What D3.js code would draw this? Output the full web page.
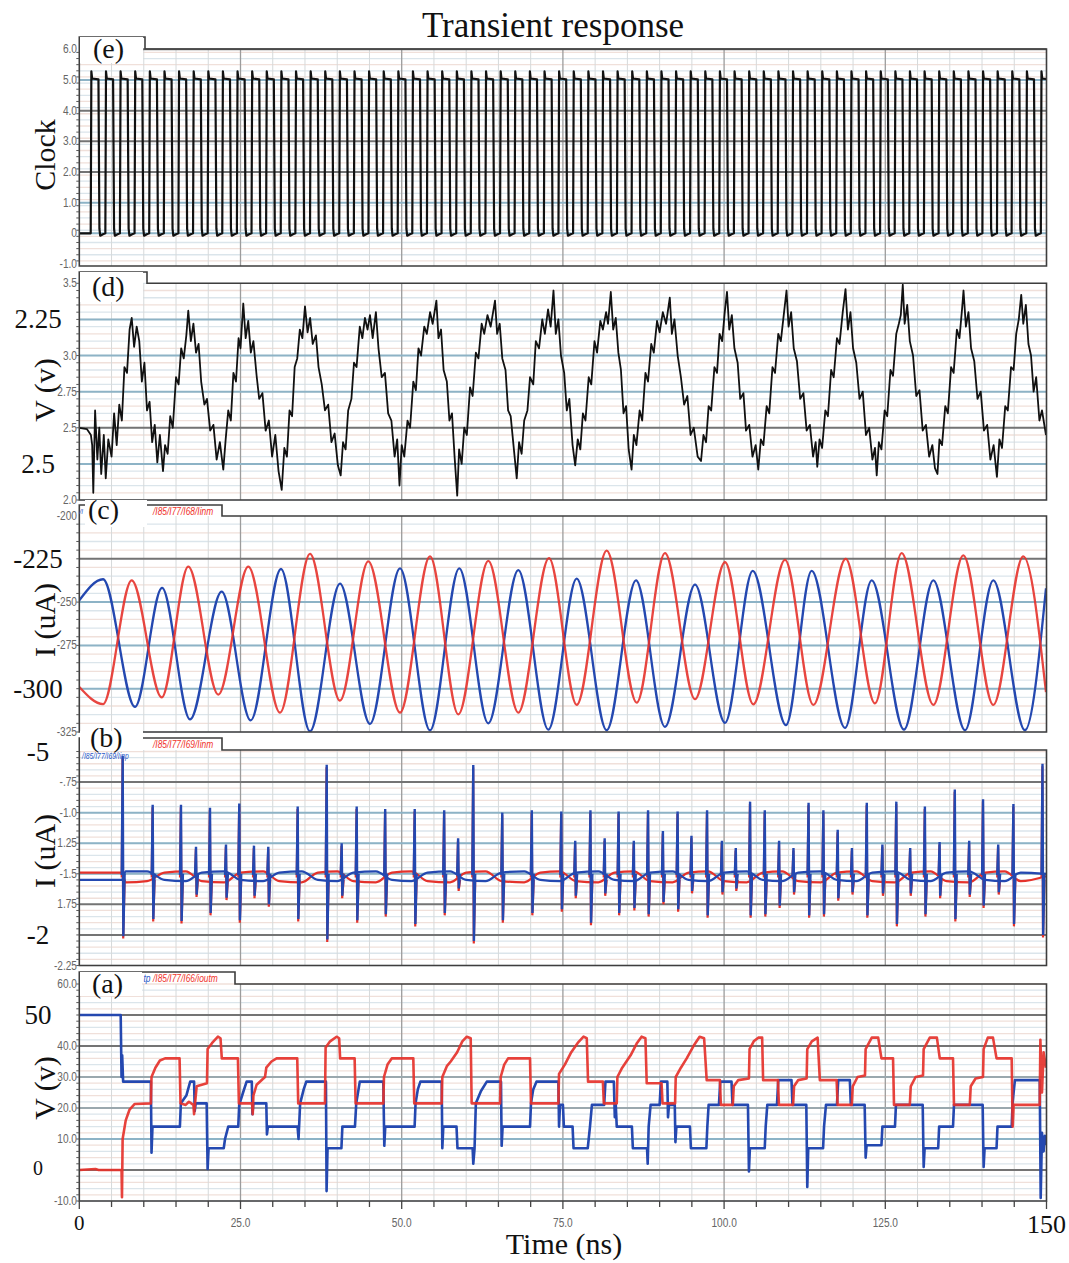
<!DOCTYPE html>
<html><head><meta charset="utf-8">
<script src="https://cdn.jsdelivr.net/npm/d3@7"></script>
<style>body{margin:0;background:#fff}svg{display:block}</style>
</head><body><svg id="c" width="1069" height="1263"></svg>
<script>
// ---------------- DATA ----------------
const titleText = "Transient response";
const xLabel = "Time (ns)";
const xTicks = [25, 50, 75, 100, 125];
const xTickLabels = ["25.0", "50.0", "75.0", "100.0", "125.0"];

// (e) clock: rising-edge times (ns)
const clockRise = [1.77,4.04,6.30,8.57,10.84,13.11,15.37,17.64,19.91,22.17,24.44,26.71,28.97,31.24,33.51,35.78,38.04,40.31,42.58,44.84,47.11,49.38,51.64,53.91,56.18,58.45,60.71,62.98,65.25,67.51,69.78,72.05,74.31,76.58,78.85,81.12,83.38,85.65,87.92,90.18,92.45,94.72,96.98,99.25,101.52,103.79,106.05,108.32,110.59,112.85,115.12,117.39,119.65,121.92,124.19,126.46,128.72,130.99,133.26,135.52,137.79,140.06,142.32,144.59,146.86,149.12];
const eTickVals = [6, 5, 4, 3, 2, 1, 0, -1];
const eTickLabels = ["6.0", "5.0", "4.0", "3.0", "2.0", "1.0", "0", "-1.0"];

// (d) voltage trace [t, V]
const dTrace = [[0,2.50],[1.2,2.49],[1.8,2.45],[2.0,2.38],[2.17,2.05],[2.45,2.62],[2.8,2.28],[3.1,2.50],[3.4,2.18],[3.8,2.45],[4.1,2.15],[4.5,2.42],[5.0,2.30],[5.4,2.60],[5.8,2.38],[6.2,2.66],[6.6,2.55],[7.0,2.92],[7.4,2.88],[7.8,3.18],[8.13,3.26],[8.5,3.06],[8.9,3.20],[9.3,3.10],[9.7,2.82],[10.1,2.95],[10.5,2.62],[10.9,2.68],[11.3,2.40],[11.7,2.52],[12.1,2.26],[12.5,2.45],[12.98,2.20],[13.3,2.38],
[13.7,2.32],[14.1,2.58],[14.5,2.50],[15.0,2.85],[15.4,2.80],[15.8,3.05],[16.2,2.98],[16.6,3.14],[16.9,3.31],[17.3,3.10],[17.7,3.22],[18.1,3.02],[18.5,3.08],[18.9,2.82],[19.4,2.66],[19.8,2.70],[20.3,2.48],[20.8,2.52],[21.3,2.28],[21.8,2.40],[22.33,2.21],[22.7,2.42],
[23.1,2.62],[23.5,2.55],[23.9,2.88],[24.3,2.82],[24.7,3.12],[25.0,3.05],[25.43,3.36],[25.8,3.12],[26.2,3.24],[26.6,3.02],[27.0,3.10],[27.5,2.86],[27.9,2.70],[28.4,2.74],[28.9,2.48],[29.4,2.55],[29.9,2.30],[30.4,2.45],[30.9,2.20],[31.39,2.07],[31.8,2.36],[32.2,2.30],
[32.6,2.62],[33.0,2.58],[33.4,2.92],[33.8,2.98],[34.2,3.18],[34.6,3.12],[35.0,3.34],[35.4,3.16],[35.8,3.26],[36.2,3.08],[36.7,3.14],[37.1,2.92],[37.6,2.80],[38.1,2.62],[38.6,2.66],[39.1,2.40],[39.6,2.46],[40.1,2.24],[40.54,2.17],[40.9,2.40],[41.3,2.35],
[41.7,2.62],[42.2,2.70],[42.6,2.95],[43.0,2.92],[43.5,3.20],[43.9,3.12],[44.3,3.26],[44.7,3.18],[45.08,3.28],[45.5,3.12],[46.0,3.30],[46.4,3.05],[46.9,2.85],[47.4,2.88],[47.9,2.60],[48.4,2.55],[48.9,2.30],[49.3,2.42],[49.66,2.10],[50.0,2.38],[50.4,2.30],
[50.9,2.55],[51.3,2.50],[51.8,2.82],[52.2,2.76],[52.6,3.05],[53.0,3.00],[53.5,3.20],[53.9,3.15],[54.4,3.30],[54.8,3.22],[55.38,3.38],[55.7,3.12],[56.1,3.18],[56.5,2.90],[57.0,2.82],[57.4,2.55],[57.8,2.60],[58.2,2.30],[58.61,2.03],[58.9,2.35],[59.3,2.25],
[59.7,2.50],[60.1,2.45],[60.6,2.78],[61.0,2.72],[61.5,3.02],[61.9,2.98],[62.4,3.22],[62.8,3.15],[63.3,3.28],[63.8,3.20],[64.47,3.38],[64.8,3.15],[65.2,3.22],[65.6,2.98],[66.1,2.90],[66.5,2.62],[66.9,2.58],[67.4,2.35],[67.84,2.15],[68.2,2.40],[68.6,2.32],
[69.0,2.55],[69.5,2.62],[69.9,2.85],[70.4,2.80],[70.8,3.10],[71.3,3.05],[71.8,3.25],[72.2,3.15],[72.7,3.32],[73.1,3.20],[73.54,3.45],[73.9,3.15],[74.3,3.25],[74.7,3.00],[75.2,2.88],[75.6,2.62],[76.0,2.70],[76.5,2.38],[76.91,2.24],[77.3,2.42],[77.7,2.35],
[78.1,2.60],[78.5,2.55],[79.0,2.85],[79.4,2.80],[79.9,3.10],[80.3,3.02],[80.8,3.24],[81.2,3.18],[81.7,3.30],[82.0,3.22],[82.43,3.44],[82.8,3.18],[83.2,3.26],[83.6,3.02],[84.0,2.90],[84.4,2.60],[84.8,2.65],[85.2,2.35],[85.65,2.21],[86.0,2.45],[86.4,2.38],
[86.9,2.62],[87.3,2.55],[87.8,2.88],[88.2,2.82],[88.7,3.08],[89.1,3.02],[89.6,3.24],[90.0,3.16],[90.5,3.30],[91.0,3.22],[91.58,3.40],[91.9,3.15],[92.3,3.25],[92.8,3.00],[93.3,2.85],[93.8,2.66],[94.3,2.72],[94.8,2.45],[95.3,2.50],[95.9,2.30],[96.42,2.27],[96.8,2.45],
[97.2,2.40],[97.6,2.65],[98.0,2.62],[98.5,2.92],[98.9,2.88],[99.3,3.15],[99.7,3.10],[100.1,3.30],[100.45,3.44],[100.8,3.18],[101.2,3.28],[101.6,3.05],[102.1,2.95],[102.5,2.70],[103.0,2.74],[103.4,2.48],[103.9,2.52],[104.4,2.30],[104.9,2.38],[105.3,2.21],[105.7,2.42],
[106.1,2.38],[106.6,2.65],[107.0,2.60],[107.5,2.92],[107.9,2.88],[108.4,3.15],[108.8,3.10],[109.3,3.30],[109.68,3.45],[110.0,3.20],[110.4,3.30],[110.8,3.05],[111.3,2.96],[111.8,2.70],[112.3,2.74],[112.8,2.48],[113.3,2.52],[113.8,2.30],[114.2,2.40],[114.45,2.23],[114.8,2.42],
[115.2,2.36],[115.7,2.62],[116.1,2.58],[116.6,2.90],[117.0,2.85],[117.5,3.12],[117.9,3.08],[118.4,3.30],[118.83,3.46],[119.2,3.18],[119.6,3.30],[120.0,3.05],[120.5,2.95],[121.0,2.70],[121.5,2.75],[122.0,2.45],[122.5,2.50],[123.0,2.28],[123.4,2.36],[123.67,2.17],[124.0,2.40],
[124.4,2.35],[124.9,2.62],[125.3,2.58],[125.8,2.90],[126.2,2.86],[126.7,3.15],[127.1,3.22],[127.4,3.28],[127.71,3.49],[128.0,3.22],[128.4,3.35],[128.8,3.10],[129.3,3.00],[129.8,2.72],[130.3,2.76],[130.8,2.48],[131.3,2.52],[131.8,2.30],[132.3,2.38],[132.7,2.22],[133.09,2.18],[133.4,2.42],
[133.8,2.38],[134.3,2.65],[134.7,2.60],[135.2,2.92],[135.6,2.88],[136.1,3.18],[136.5,3.12],[136.9,3.32],[137.13,3.45],[137.5,3.20],[137.9,3.30],[138.3,3.05],[138.8,2.96],[139.3,2.70],[139.8,2.75],[140.3,2.48],[140.8,2.52],[141.3,2.28],[141.8,2.38],[142.31,2.16],[142.7,2.42],
[143.1,2.36],[143.6,2.65],[144.0,2.62],[144.5,2.92],[144.9,2.90],[145.3,3.15],[145.7,3.25],[146.08,3.42],[146.4,3.22],[146.8,3.35],[147.2,3.08],[147.6,3.00],[148.0,2.75],[148.4,2.85],[148.9,2.55],[149.3,2.62],[149.92,2.45]];
const dTickVals = [3.5, 3.0, 2.75, 2.5, 2.0];
const dTickLabels = ["3.5", "3.0", "2.75", "2.5", "2.0"];
const dBigVals = [3.25, 2.25];
const dBigLabels = ["2.25", "2.5"];

// (c) current extrema [t, uA]
const cBlue = [[0,-249],[3.68,-236.8],[8.64,-310.5],[12.83,-241.8],[17.17,-317.7],[22.08,-244],[26.58,-318.3],[31.28,-230.9],[35.78,-324.6],[40.43,-239.3],[45.08,-320.3],[49.74,-230.5],[54.39,-324],[58.93,-230.5],[63.43,-320],[68.08,-231.5],[72.74,-323.6],[77.14,-236.4],[81.79,-324],[86.34,-237.4],[90.83,-322],[95.49,-239.9],[100.14,-319.7],[104.44,-232],[109.6,-321],[113.58,-232],[118.75,-322.6],[122.89,-237.4],[127.9,-323.6],[132.45,-237.4],[137.36,-324],[141.75,-237.4],[146.66,-324],[149.92,-242]];
const cRed = [[0,-299],[3.68,-308.9],[8.13,-237.4],[12.78,-305],[16.9,-229.5],[21.56,-303.4],[26.21,-229.5],[31.13,-313.8],[35.78,-222.2],[40.43,-306.9],[44.82,-226.5],[49.74,-313.8],[54.39,-223.6],[58.78,-314.8],[63.43,-226.2],[68.08,-313.8],[72.84,-224.6],[77.14,-309.3],[81.79,-220.3],[86.45,-308],[90.83,-221.7],[95.49,-306],[100.14,-227],[104.53,-309],[109.45,-225.6],[113.84,-309.3],[118.86,-225],[123.4,-308.5],[127.54,-221.7],[132.45,-309.3],[137.1,-223],[141.75,-309.3],[146.4,-223.6],[149.92,-302]];
const cTickVals = [-200, -250, -275, -325];
const cTickLabels = ["-200", "-250", "-275", "-325"];
const cBigVals = [-225, -300];
const cBigLabels = ["-225", "-300"];

// (b) current: baselines and spikes [t, up, down]
const bBlueBase = [[0,-1.55],[6.6,-1.55],[7.2,-1.48],[10.5,-1.48],[13.2,-1.55],[16.5,-1.56],[19.0,-1.49],[22.5,-1.48],[25.0,-1.55],[28.5,-1.56],[31.0,-1.49],[34.5,-1.48],[37.0,-1.55],[40.0,-1.56],[42.5,-1.49],[46.0,-1.48],[48.5,-1.55],[51.5,-1.56],[54.0,-1.49],[57.5,-1.48],[60.0,-1.55],[63.0,-1.56],[65.5,-1.49],[69.0,-1.48],[71.5,-1.55],[74.5,-1.56],[77.0,-1.49],[80.5,-1.48],[83.0,-1.55],[86.0,-1.56],[88.5,-1.49],[92.0,-1.48],[94.5,-1.55],[97.5,-1.56],[100.0,-1.49],[103.5,-1.48],[106.0,-1.55],[109.0,-1.56],[111.5,-1.49],[115.0,-1.48],[117.5,-1.55],[120.5,-1.56],[123.0,-1.49],[126.5,-1.48],[129.0,-1.55],[132.0,-1.56],[134.5,-1.49],[138.0,-1.48],[140.5,-1.55],[143.5,-1.56],[146.0,-1.49],[149.92,-1.50]];
const bRedBase = [[0,-1.49],[6.6,-1.49],[7.2,-1.57],[10.5,-1.56],[13.2,-1.49],[16.5,-1.48],[19.0,-1.56],[22.5,-1.57],[25.0,-1.49],[28.5,-1.48],[31.0,-1.56],[34.5,-1.57],[37.0,-1.49],[40.0,-1.48],[42.5,-1.56],[46.0,-1.57],[48.5,-1.49],[51.5,-1.48],[54.0,-1.56],[57.5,-1.57],[60.0,-1.49],[63.0,-1.48],[65.5,-1.56],[69.0,-1.57],[71.5,-1.49],[74.5,-1.48],[77.0,-1.56],[80.5,-1.57],[83.0,-1.49],[86.0,-1.48],[88.5,-1.56],[92.0,-1.57],[94.5,-1.49],[97.5,-1.48],[100.0,-1.56],[103.5,-1.57],[106.0,-1.49],[109.0,-1.48],[111.5,-1.56],[115.0,-1.57],[117.5,-1.49],[120.5,-1.48],[123.0,-1.56],[126.5,-1.57],[129.0,-1.49],[132.0,-1.48],[134.5,-1.56],[138.0,-1.57],[140.5,-1.49],[143.5,-1.48],[146.0,-1.56],[149.92,-1.52]];
const bSpikes = [[6.73,-0.554,-2.03],[11.38,-0.956,-1.89],[15.77,-0.956,-1.906],[18.1,-1.30,-1.69],[20.27,-0.98,-1.84],[22.75,-1.28,-1.715],[24.81,-0.945,-1.90],[27.09,-1.29,-1.70],[29.31,-1.30,-1.77],[33.87,-0.97,-1.89],[38.37,-0.628,-2.057],[40.69,-1.27,-1.70],[43.02,-0.97,-1.90],[47.44,-0.99,-1.85],[52.02,-0.99,-1.93],[56.59,-1.0,-1.84],[58.75,-1.23,-1.64],[61.1,-0.63,-2.07],[65.6,-1.02,-1.90],[70.18,-1.0,-1.84],[74.75,-1.01,-1.81],[76.91,-1.25,-1.70],[79.27,-1.0,-1.92],[81.48,-1.23,-1.68],[83.64,-1.01,-1.84],[86.0,-1.25,-1.80],[88.21,-1.0,-1.85],[90.51,-1.17,-1.75],[92.79,-1.01,-1.81],[94.94,-1.21,-1.66],[97.36,-1.0,-1.86],[99.66,-1.25,-1.67],[101.81,-1.31,-1.64],[104.03,-0.93,-1.86],[106.31,-1.0,-1.85],[108.53,-1.25,-1.78],[110.76,-1.31,-1.67],[113.1,-0.94,-1.86],[115.4,-1.0,-1.85],[117.62,-1.16,-1.72],[119.83,-1.31,-1.67],[122.13,-0.94,-1.86],[124.55,-1.28,-1.68],[126.71,-0.93,-1.93],[128.86,-1.31,-1.68],[131.14,-0.97,-1.85],[133.42,-1.26,-1.70],[135.78,-0.83,-1.89],[138.01,-1.25,-1.69],[140.16,-0.91,-1.78],[142.51,-1.28,-1.67],[144.87,-0.95,-1.93],[149.38,-0.62,-2.02]];
const bTickVals = [-0.75, -1.0, -1.25, -1.5, -1.75, -2.25];
const bTickLabels = ["-.75", "-1.0", "1.25", "-1.5", "1.75", "-2.25"];
const bBigVals = [-0.5, -2.0];
const bBigLabels = ["-5", "-2"];

// (a) output voltages [t, V]
const aBlue = [[0,50],[6.42,50],[6.55,30],[6.65,37],[6.8,28.5],[11.1,28.5],[11.2,5.6],[11.35,14],[15.6,14],[15.75,21.5],[16.6,24],[17.2,28.5],[17.8,28.5],[17.9,19],[18.05,21.5],[19.75,21.5],[19.9,0.3],[20.05,7],[22.4,7],[22.6,10],[23.1,14],[24.65,14],[24.8,21],[25.4,25],[25.95,28.5],[26.75,28.5],[26.85,18],[27.0,21.5],[29.0,21.5],[29.1,11.5],[29.25,14],[33.85,14],[34.0,10],[34.25,21.5],[34.8,26],[35.2,28.5],[38.25,28.5],[38.35,-6.8],[38.5,7],[40.65,7],[40.8,14],[42.75,14],[42.95,21.5],[43.5,28.5],[47.15,28.5],[47.3,7.8],[47.45,14],[52.0,14],[52.15,21.5],[52.5,26],[52.9,28.5],[56.2,28.5],[56.3,7],[56.45,14],[58.5,14],[58.65,7],[61.0,7],[61.1,2],[61.3,7],[61.5,21.5],[62.3,25.5],[63.2,28.5],[65.4,28.5],[65.5,7.8],[65.65,14],[69.9,14],[70.05,21.5],[70.4,26],[70.9,28.5],[74.3,28.5],[74.4,14],[74.55,21],[75.0,21],[75.15,14],[76.5,14],[76.65,7],[78.85,7],[79.0,10],[79.2,14],[79.5,21],[81.4,21],[81.6,28.5],[82.9,28.5],[83.05,17],[83.2,21],[83.35,14],[85.7,14],[85.85,7],[88.05,7],[88.15,2],[88.3,14],[88.6,21],[90.0,21],[90.2,28.5],[91.2,28.5],[91.3,17],[91.45,21],[92.35,21],[92.45,9],[92.6,14],[94.7,14],[94.85,7],[97.25,7],[97.4,14],[97.6,21],[99.2,21],[99.4,28.5],[101.15,28.5],[101.3,21],[103.7,21],[103.85,-0.5],[104.0,7],[106.3,7],[106.45,14],[106.7,21],[108.2,21],[108.4,29],[110.45,29],[110.6,21],[112.75,21],[112.9,-5.5],[113.05,7],[115.35,7],[115.5,14],[115.8,21],[117.5,21],[117.7,29],[119.5,29],[119.65,21],[121.8,21],[121.95,4],[122.1,8],[124.4,8],[124.55,14],[126.5,14],[126.65,21],[130.8,21],[130.95,1],[131.1,7],[133.2,7],[133.35,14],[135.5,14],[135.65,21],[140.1,21],[140.25,1],[140.4,7],[142.25,7],[142.4,14],[144.6,14],[144.75,22],[145.1,29],[148.95,29],[149.1,-9],[149.3,12],[149.55,6],[149.75,11],[149.92,8]];
const aRed = [[0,0],[2.5,0.3],[3.0,0],[6.55,0],[6.62,-8.8],[6.72,10],[7.2,16],[7.8,19.5],[8.6,21.3],[11.1,21.5],[11.2,30],[11.8,33],[12.5,35.3],[13.3,36],[15.55,36],[15.7,21.5],[16.5,21],[17.0,22],[17.7,21],[17.8,18],[17.95,21.5],[18.2,27],[19.8,28],[19.9,39],[20.6,41],[21.5,43],[21.9,42.5],[22.1,36],[24.6,36],[24.75,21.5],[26.8,21.5],[26.9,18],[27.0,24],[27.5,27.5],[28.8,30],[29.0,33],[29.8,35],[30.6,36],[33.8,36],[33.95,21.5],[38.1,21.5],[38.2,39.5],[38.9,41.5],[39.9,43],[40.3,42.5],[40.45,36],[42.7,36],[42.85,21.5],[47.15,21.5],[47.25,30],[47.8,34],[48.45,36],[51.8,36],[51.95,21.5],[56.2,21.5],[56.3,30],[57.0,33.5],[57.6,35],[58.6,38],[59.4,41.5],[60.1,43],[60.7,42.5],[60.85,21.5],[65.25,21.5],[65.35,30],[65.9,34],[66.5,36],[69.9,36],[70.05,21.5],[74.3,21.5],[74.4,31],[75.3,34],[76.3,38],[77.3,41],[78.2,43],[78.7,42.5],[78.9,28.5],[81.2,28.5],[81.35,21.5],[83.35,21.5],[83.45,30],[84.2,33],[85.5,37],[86.5,41],[87.2,43],[87.8,42.5],[88.0,28],[90.3,28],[90.45,21.5],[92.4,21.5],[92.5,30],[93.3,33],[94.2,36],[95.4,40.5],[96.2,43],[96.9,42.5],[97.3,29],[99.35,29],[99.5,21],[101.35,21],[101.5,27],[102.2,29],[103.85,29.5],[103.95,39],[104.6,41.5],[105.3,42.7],[105.9,42.7],[106.05,29],[108.35,29],[108.5,21],[110.7,21],[110.85,27],[111.5,29],[112.8,29.5],[112.9,39],[113.6,41.5],[114.5,42.7],[114.85,29],[117.45,29],[117.6,21],[119.8,21],[119.95,27],[120.7,30],[121.85,30.5],[121.95,39],[122.9,42.7],[123.9,42.7],[124.4,36],[126.2,36],[126.35,21],[128.8,21],[128.95,27],[129.7,30],[130.85,30.5],[130.95,39],[131.9,42.7],[133.0,42.7],[133.45,36],[135.5,36],[135.65,21],[138.1,21],[138.25,27],[139.0,29.5],[140.15,30],[140.25,39],[140.9,42.7],[141.7,42.7],[142.25,36],[144.6,36],[144.75,14],[144.9,21],[148.95,21],[149.05,42],[149.3,25],[149.55,38],[149.92,33]];
const aTickVals = [60, 40, 30, 20, 10, -10];
const aTickLabels = ["60.0", "40.0", "30.0", "20.0", "10.0", "-10.0"];
const aBigVals = [50, 0];
const aBigLabels = ["50", "0"];

const panelLetters = ["(e)", "(d)", "(c)", "(b)", "(a)"];
const yTitles = ["Clock", "V (v)", "I (uA)", "I (uA)", "V (v)"];
const tabBlue = ["", "", "/I", "/I85/I77/I69/Iinp", "tp"];
const tabRed = ["", "", "/I85/I77/I68/Iinm", "/I85/I77/I69/Iinm", "/I85/I77/I66/ioutm"];

// ---------------- DRAWING ----------------
const BLUE = "#2448b0", RED = "#e5322b";
const DARK = "#747474", BLU = "#8db3c6", MID = "#9aa8ae";
const serif = "'Liberation Serif','DejaVu Serif',serif";
const sans = "'Liberation Sans','DejaVu Sans',sans-serif";
const svg = d3.select("#c");
svg.append("rect").attr("width",1069).attr("height",1263).attr("fill","#fff");
const x = d3.scaleLinear().domain([0,150]).range([79.3,1046.5]);

const panels = [
  {key:"e", y:d3.scaleLinear([0,5],[233.3,80]), top:49, bot:266, tabTop:37, tabR:145, minor:0.2, lo:-1.1, hi:6.1,
   major:[[6,DARK],[5,BLU],[4,DARK],[3,DARK],[2,DARK],[1,BLU],[0,BLU]], ticks:eTickVals, tl:eTickLabels, big:[], bl:[],
   letter:{x:93,y:58,box:[80,37,63,26]}, title:{cy:155}, blueTab:null},
  {key:"d", y:d3.scaleLinear([2,3.5],[500,283.3]), top:283.3, bot:500, tabTop:272, tabR:147, minor:0.05, lo:2, hi:3.5,
   major:[[3.25,BLU],[3.0,BLU],[2.75,BLU],[2.5,DARK],[2.25,BLU]], ticks:dTickVals, tl:dTickLabels, big:dBigVals, bl:dBigLabels,
   letter:{x:92,y:296,box:[80,272,63,30]}, title:{cy:390}, blueTab:null},
  {key:"c", y:d3.scaleLinear([-325,-200],[732,515.5]), top:516, bot:732, tabTop:505, tabR:222, minor:5, lo:-325, hi:-200,
   major:[[-225,DARK],[-250,BLU],[-275,BLU],[-300,BLU]], ticks:cTickVals, tl:cTickLabels, big:cBigVals, bl:cBigLabels,
   letter:{x:88,y:519,box:[85,500,62,27]}, title:{cy:620}, blueTab:[79.5,514,8]},
  {key:"b", y:d3.scaleLinear([-2.25,-0.5],[965.5,751.5]), top:750, bot:965.5, tabTop:738, tabR:222, minor:0.05, lo:-2.25, hi:-0.5,
   major:[[-0.75,DARK],[-1.0,BLU],[-1.25,BLU],[-1.5,BLU],[-1.75,DARK],[-2.0,DARK]], ticks:bTickVals, tl:bTickLabels, big:bBigVals, bl:bBigLabels,
   letter:{x:90,y:747,box:[80,731,63,20]}, title:{cy:851}, blueTab:[82,759,8.5]},
  {key:"a", y:d3.scaleLinear([-10,60],[1201,984]), top:984, bot:1201, tabTop:972, tabR:235, minor:2, lo:-10, hi:60,
   major:[[50,DARK],[40,DARK],[30,MID],[20,MID],[10,BLU],[0,DARK]], ticks:aTickVals, tl:aTickLabels, big:aBigVals, bl:aBigLabels,
   letter:{x:92,y:993,box:[80,972,62,24]}, title:{cy:1088}, blueTab:[143.5,981.5,10.5]}
];

const defs = svg.append("defs");
panels.forEach((p,i) => {
  const g = svg.append("g");
  const L = x(0), R = x(150);
  defs.append("clipPath").attr("id","clip"+p.key).append("rect")
    .attr("x",L).attr("y",p.top).attr("width",R-L).attr("height",p.bot-p.top);
  const n = Math.round((p.hi-p.lo)/p.minor);
  for (let k=0;k<=n;k++){
    const v = p.lo + k*p.minor, yy = p.y(v);
    if (yy < p.top || yy > p.bot) continue;
    g.append("line").attr("x1",L).attr("x2",R).attr("y1",yy).attr("y2",yy)
      .attr("stroke", k%2 ? "#f0e0da" : "#dbe5eb").attr("stroke-width",1.3);
  }
  for (let t=5;t<150;t+=5){
    g.append("line").attr("x1",x(t)).attr("x2",x(t)).attr("y1",p.top).attr("y2",p.bot)
      .attr("stroke", t%25===0 ? "#9c9c9c" : "#d6d9da").attr("stroke-width", t%25===0 ? 1.3 : 1);
  }
  p.major.forEach(([v,c]) => {
    g.append("line").attr("x1",L).attr("x2",R).attr("y1",p.y(v)).attr("y2",p.y(v))
      .attr("stroke",c).attr("stroke-width",2);
  });
  p.g = g;
});

function lineFor(p, curve){ const l = d3.line().x(d=>x(d[0])).y(d=>p.y(d[1])); return curve ? l.curve(curve) : l; }

// (e) clock
{
  const p = panels[0];
  const pts = [[0,0]];
  clockRise.forEach(r => {
    pts.push([r,0],[r+0.1,5.28],[r+0.22,5.05],[r+1.2,5.02],[r+1.35,0.15],[r+1.47,-0.08],[r+1.9,-0.03]);
  });
  p.g.append("path").attr("clip-path","url(#clipe)").attr("d",lineFor(p)(pts))
    .attr("fill","none").attr("stroke","#111").attr("stroke-width",2.2).attr("stroke-linejoin","round");
}
// (d)
{
  const p = panels[1];
  p.g.append("path").attr("clip-path","url(#clipd)").attr("d",lineFor(p)(dTrace))
    .attr("fill","none").attr("stroke","#111").attr("stroke-width",1.8).attr("stroke-linejoin","round");
}
// (c)
{
  const p = panels[2];
  p.g.append("path").attr("clip-path","url(#clipc)").attr("d",lineFor(p,d3.curveMonotoneX)(cBlue))
    .attr("fill","none").attr("stroke",BLUE).attr("stroke-width",2.3);
  p.g.append("path").attr("clip-path","url(#clipc)").attr("d",lineFor(p,d3.curveMonotoneX)(cRed))
    .attr("fill","none").attr("stroke",RED).attr("stroke-width",2.3).attr("stroke-opacity",0.9);
}
// (b)
{
  const p = panels[3];
  const gg = p.g.append("g").attr("clip-path","url(#clipb)");
  gg.append("path").attr("d",lineFor(p,d3.curveMonotoneX)(bRedBase)).attr("fill","none").attr("stroke",RED).attr("stroke-width",2.3);
  bSpikes.forEach(([t,u,dn]) => {
    gg.append("path").attr("d",lineFor(p)([[t-0.15,-1.53],[t-0.02,u],[t+0.08,dn],[t+0.3,-1.55]]))
      .attr("fill","none").attr("stroke",RED).attr("stroke-width",2.2);
  });
  gg.append("path").attr("d",lineFor(p,d3.curveMonotoneX)(bBlueBase)).attr("fill","none").attr("stroke",BLUE).attr("stroke-width",2.3);
  bSpikes.forEach(([t,u,dn]) => {
    gg.append("path").attr("d",lineFor(p)([[t-0.15,-1.51],[t,u+0.02],[t+0.1,dn+0.02],[t+0.3,-1.5]]))
      .attr("fill","none").attr("stroke",BLUE).attr("stroke-width",2.4);
  });
}
// (a)
{
  const p = panels[4];
  p.g.append("path").attr("clip-path","url(#clipa)").attr("d",lineFor(p)(aBlue))
    .attr("fill","none").attr("stroke",BLUE).attr("stroke-width",2.6).attr("stroke-linejoin","round");
  p.g.append("path").attr("clip-path","url(#clipa)").attr("d",lineFor(p)(aRed))
    .attr("fill","none").attr("stroke",RED).attr("stroke-width",2.6).attr("stroke-linejoin","round").attr("stroke-opacity",0.92);
}

// ---------- frames, tabs, labels ----------
panels.forEach((p,i) => {
  const L = x(0), R = x(150);
  const g = svg.append("g");
  g.append("path").attr("d",`M${L},${p.tabTop}H${p.tabR}V${p.top}H${R}V${p.bot}H${L}Z`)
    .attr("fill","none").attr("stroke","#3e3e3e").attr("stroke-width",1.6);
  const n = Math.round((p.hi-p.lo)/p.minor);
  for (let k=0;k<=n;k++){
    const yy = p.y(p.lo + k*p.minor);
    if (yy < p.top || yy > p.bot) continue;
    g.append("line").attr("x1",L-3).attr("x2",L).attr("y1",yy).attr("y2",yy).attr("stroke","#555").attr("stroke-width",1);
  }
  // letter box
  const b = p.letter.box;
  g.append("rect").attr("x",b[0]).attr("y",b[1]).attr("width",b[2]).attr("height",b[3]).attr("fill","#fff");
  g.append("text").attr("x",p.letter.x).attr("y",p.letter.y).attr("font-family",serif).attr("font-size",28)
    .attr("fill","#111").text(panelLetters[i]);
  // tab texts
  if (tabRed[i]) {
    g.append("text").attr("transform",`translate(153,${p.tabTop+9.5}) scale(0.8,1)`)
      .attr("font-family",sans).attr("font-size",10.5).attr("font-style","italic")
      .attr("fill","#f0322a").text(tabRed[i]);
  }
  if (tabBlue[i] && p.blueTab) {
    g.append("text").attr("transform",`translate(${p.blueTab[0]},${p.blueTab[1]}) scale(0.8,1)`)
      .attr("font-family",sans).attr("font-size",p.blueTab[2]).attr("font-style","italic")
      .attr("fill","#2b57c8").text(tabBlue[i]);
  }
  // small tick labels
  p.ticks.forEach((v,k) => {
    g.append("text").attr("transform",`translate(77,${p.y(v)+4}) scale(0.78,1)`)
      .attr("text-anchor","end").attr("font-family",sans).attr("font-size",13).attr("fill","#666")
      .text(p.tl[k]);
  });
  // big overlay labels
  p.big.forEach((v,k) => {
    const yy = p.y(v);
    const lbl = p.bl[k];
    const isZero = lbl === "0";
    g.append("rect").attr("x",4).attr("y",yy-13).attr("width",70).attr("height",24).attr("fill","#fff");
    g.append("text").attr("x", 38).attr("y",yy+ (isZero?5:9))
      .attr("text-anchor","middle").attr("font-family",serif).attr("font-size",isZero?20:27).attr("fill","#111").text(lbl);
  });
  g.append("text").attr("transform",`translate(44,${p.title.cy}) rotate(-90)`)
    .attr("text-anchor","middle").attr("dominant-baseline","central")
    .attr("font-family",serif).attr("font-size",30).attr("fill","#111").text(yTitles[i]);
});

// x axis
{
  const p = panels[4];
  for (let t=0;t<=150;t+=5){
    svg.append("line").attr("x1",x(t)).attr("x2",x(t)).attr("y1",p.bot).attr("y2",p.bot+(t%25===0?8:6))
      .attr("stroke","#444").attr("stroke-width",1.3);
  }
  xTicks.forEach((t,k) => {
    svg.append("text").attr("transform",`translate(${x(t)},${p.bot+26}) scale(0.78,1)`)
      .attr("text-anchor","middle").attr("font-family",sans).attr("font-size",13).attr("fill","#666").text(xTickLabels[k]);
  });
  svg.append("text").attr("x",x(0)).attr("y",p.bot+29).attr("text-anchor","middle")
    .attr("font-family",serif).attr("font-size",21).attr("fill","#111").text("0");
  svg.append("text").attr("x",x(150)).attr("y",p.bot+32).attr("text-anchor","middle")
    .attr("font-family",serif).attr("font-size",26).attr("fill","#111").text("150");
  svg.append("text").attr("x",564).attr("y",1254).attr("text-anchor","middle")
    .attr("font-family",serif).attr("font-size",30).attr("fill","#111").text(xLabel);
}
svg.append("text").attr("x",553).attr("y",37).attr("text-anchor","middle")
  .attr("font-family",serif).attr("font-size",35).attr("fill","#111").text(titleText);
</script></body></html>
